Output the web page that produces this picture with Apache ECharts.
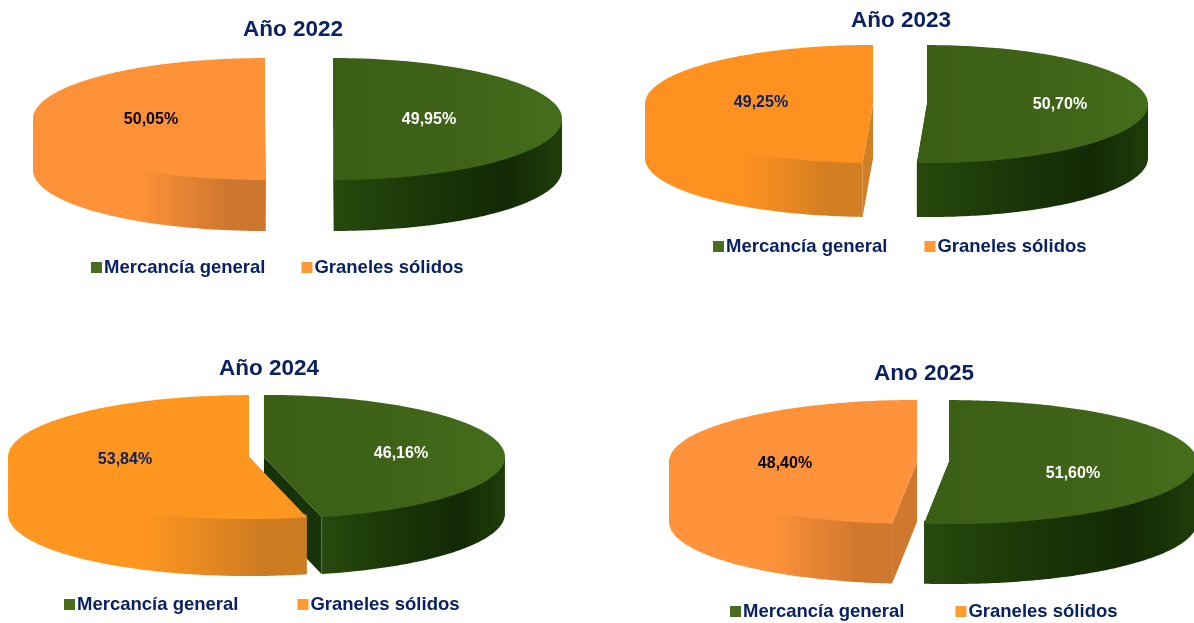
<!DOCTYPE html>
<html>
<head>
<meta charset="utf-8">
<style>html,body{margin:0;padding:0;background:#fff}#chart{width:1194px;height:623px}</style>
<script src="https://cdn.jsdelivr.net/npm/echarts@6/dist/echarts.min.js"></script>
</head>
<body>
<div id="chart"></div>
<script>
// Tonnage share by cargo type, one projected pie per year
const categories = ['Mercancía general', 'Graneles sólidos'];
const years = ['Año 2022', 'Año 2023', 'Año 2024', 'Ano 2025'];
const mercanciaGeneral = [49.95, 50.70, 46.16, 51.60];
const granelesSolidos = [50.05, 49.25, 53.84, 48.40];

const NAVY = '#0A2263';

// Placement of each pie: ellipse, wall height, slice explosion, captions
const panels = [
  { cx: 299, cy: 119, rx: [229, 232], ry: 61, depth: 51, explode: 34, title: [293, 30], legend: [91, 269], gap: 36,
    labels: [[429, 119.5, '#fff'], [151, 120, '#000']],
    orange: '#FF9238', orangeDark: '#CC762E' },
  { cx: 900, cy: 104, rx: [221, 228], ry: 59, depth: 54, explode: 27, title: [901, 21], legend: [713, 248], gap: 37,
    labels: [[1060, 105, '#fff'], [761, 103, NAVY]],
    orange: '#FF9120', orangeDark: '#D27E22' },
  { cx: 256.5, cy: 457, rx: [241, 241], ry: 62, depth: 57, explode: 7.5, title: [269, 369], legend: [64, 606], gap: 59,
    labels: [[401, 454, '#fff'], [125, 460, NAVY]],
    orange: '#FF961F', orangeDark: '#CE7C22' },
  { cx: 933, cy: 462, rx: [248, 248], ry: 62, depth: 60, explode: 16, title: [924, 374], legend: [730, 613], gap: 51,
    labels: [[1073, 474, '#fff'], [785, 464, '#000']],
    orange: '#FF923A', orangeDark: '#D0782E' }
];

const TAU = Math.PI * 2;

function rimPoint(c, a, dropY) {
  return [c.x + c.rx * Math.sin(a), c.y - c.ry * Math.cos(a) + (dropY || 0)];
}

function arc(c, a0, a1, dropY) {
  const steps = Math.max(8, Math.ceil(Math.abs(a1 - a0) * 60));
  const pts = [];
  for (let i = 0; i <= steps; i++) pts.push(rimPoint(c, a0 + (a1 - a0) * i / steps, dropY));
  return pts;
}

function grad(stops) {
  return new echarts.graphic.LinearGradient(0, 0, 1, 0,
    stops.map(([offset, color]) => ({ offset, color })));
}

// Draws one slice: radial faces and the front of the wall first, then the top surface over them
function sliceRenderer(panel, sliceIndex, values) {
  return function (params, api) {
    const total = values[0] + values[1];
    const before = sliceIndex === 0 ? 0 : values[0];
    const a0 = before / total * TAU;
    const a1 = a0 + api.value(0) / total * TAU;
    const mid = (a0 + a1) / 2;
    const rx = panel.rx[sliceIndex];
    const c = {
      x: panel.cx + panel.explode * Math.sin(mid),
      y: panel.cy - panel.explode * panel.ry / rx * Math.cos(mid) * 0.4,
      rx,
      ry: panel.ry
    };
    const d = panel.depth;
    const isGreen = sliceIndex === 0;
    const faceFill = isGreen ? '#17330A' : panel.orangeDark;
    const wallFill = isGreen
      ? grad([[0, '#27490D'], [0.45, '#183507'], [0.75, '#122A05'], [1, '#1F3D0A']])
      : grad([[0, panel.orange], [0.45, panel.orange], [0.85, panel.orangeDark], [1, panel.orangeDark]]);
    const topFill = isGreen
      ? grad([[0, '#3B5E15'], [0.6, '#3F6418'], [1, '#456E1B']])
      : panel.orange;
    const children = [];
    [a0, a1].forEach((a) => {
      const rim = rimPoint(c, a);
      children.push({
        type: 'polygon',
        shape: { points: [[c.x, c.y], rim, [rim[0], rim[1] + d], [c.x, c.y + d]] },
        style: { fill: faceFill }
      });
    });
    // Only the part of the rim facing the viewer gets a wall; it runs slightly
    // under the top surface so no seam shows along the shared edge
    const frontFrom = Math.max(a0, TAU / 4);
    const frontTo = Math.min(a1, TAU * 3 / 4);
    if (frontTo > frontFrom) {
      children.push({
        type: 'polygon',
        shape: { points: arc(c, frontFrom, frontTo, -3).concat(arc(c, frontTo, frontFrom, d)) },
        style: { fill: wallFill }
      });
    }
    children.push({
      type: 'polygon',
      shape: { points: [[c.x, c.y]].concat(arc(c, a0, a1)) },
      style: { fill: topFill }
    });
    const lab = panel.labels[sliceIndex];
    children.push({
      type: 'text',
      style: {
        x: lab[0], y: lab[1],
        text: api.value(0).toFixed(2).replace('.', ',') + '%',
        fill: lab[2],
        font: 'bold 16px "Liberation Sans", Arial, sans-serif',
        align: 'center', verticalAlign: 'middle'
      }
    });
    return { type: 'group', children };
  };
}

const series = [];
panels.forEach((panel, i) => {
  const values = [mercanciaGeneral[i], granelesSolidos[i]];
  [0, 1].forEach((s) => {
    series.push({
      type: 'custom',
      name: categories[s],
      coordinateSystem: 'none',
      itemStyle: { color: s === 0 ? '#4A6B20' : '#FF9A33' },
      data: [[values[s]]],
      renderItem: sliceRenderer(panel, s, values),
      silent: true,
      animation: false,
      z: 2 + s
    });
  });
});

const option = {
  animation: false,
  backgroundColor: '#fff',
  title: panels.map((p, i) => ({
    text: years[i],
    left: p.title[0],
    top: p.title[1],
    textAlign: 'center',
    textVerticalAlign: 'middle',
    padding: 0,
    textStyle: { color: NAVY, fontFamily: '"Liberation Sans", Arial, sans-serif', fontWeight: 'bold', fontSize: 22.5 }
  })),
  legend: panels.map((p) => ({
    data: categories,
    left: p.legend[0],
    top: p.legend[1] - 11,
    padding: 0,
    icon: 'rect',
    itemWidth: 11,
    itemHeight: 11,
    itemGap: p.gap,
    selectedMode: false,
    textStyle: { color: NAVY, fontFamily: '"Liberation Sans", Arial, sans-serif', fontWeight: 'bold', fontSize: 18.5, padding: [0, 0, 0, -3] }
  })),
  series
};

const chart = echarts.init(document.getElementById('chart'), null, { renderer: 'canvas' });
chart.setOption(option);
</script>
</body>
</html>
